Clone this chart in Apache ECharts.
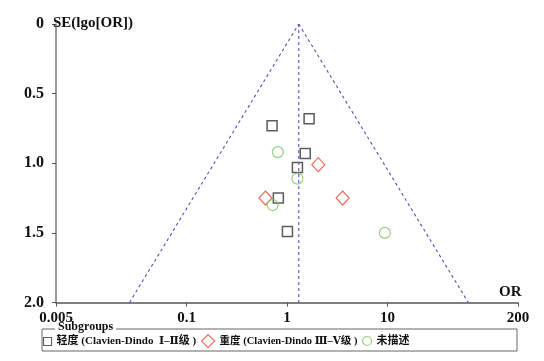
<!DOCTYPE html>
<html><head><meta charset="utf-8">
<script src="https://cdn.jsdelivr.net/npm/echarts@6/dist/echarts.min.js"></script>
<style>html,body{margin:0;padding:0;background:#fff}#c{width:544px;height:361px}</style>
</head><body><div id="c"></div>
<script>
const xTicks = [0.005, 0.1, 1, 10, 200];
const yTicks = [0, 0.5, 1.0, 1.5, 2.0];
const mildData = [[1.66,0.68],[0.71,0.73],[1.52,0.93],[1.27,1.03],[0.82,1.25],[1.01,1.49]];
const severeData = [[2.05,1.01],[0.61,1.25],[3.58,1.25]];
const unknownData = [[0.81,0.92],[1.27,1.11],[0.72,1.30],[9.44,1.50]];
const funnelLeft = [[0.027,2.0],[1.31,0]];
const funnelRight = [[1.31,0],[64,2.0]];
const centerLine = [[1.31,0],[1.31,2.0]];
const seriesNames = ['轻度 (Clavien-Dindo  Ⅰ–Ⅱ级 )','重度 (Clavien-Dindo Ⅲ–Ⅴ级 )','未描述'];

const serif = '"Liberation Serif","DejaVu Serif","Noto Sans CJK SC",serif';
const chart = echarts.init(document.getElementById('c'));
const dashStyle = {color:'#5050c4', width:1.1, type:[3,3]};
const legendText = {fontFamily:serif, fontWeight:'bold', fontSize:11, color:'#111'};
chart.setOption({
  animation:false,
  backgroundColor:'#fff',
  title:[
    {text:'SE(lgo[OR])', left:48, top:11, textStyle:{fontFamily:serif,fontWeight:'bold',fontSize:15,color:'#111'}},
    {text:'OR', left:494, top:280, textStyle:{fontFamily:serif,fontWeight:'bold',fontSize:15,color:'#111'}}
  ],
  grid:{left:56, top:24, right:26, bottom:58.5, containLabel:false},
  xAxis:{type:'log', logBase:10, min:0.005, max:200, position:'bottom',
    axisLine:{onZero:false, lineStyle:{color:'#555', width:1.5}},
    axisTick:{customValues:xTicks, length:4, lineStyle:{color:'#555'}},
    axisLabel:{customValues:xTicks, formatter:v=>String(v), fontFamily:serif, fontWeight:'bold', fontSize:15, color:'#111', margin:8},
    splitLine:{show:false}, minorTick:{show:false}},
  yAxis:{type:'value', inverse:true, min:0, max:2, interval:0.5,
    axisLine:{show:true, onZero:false, lineStyle:{color:'#777', width:1.5}},
    axisTick:{show:true, length:4, lineStyle:{color:'#555'}},
    axisLabel:{formatter:v=>v===0?'0':v.toFixed(1), fontFamily:serif, fontWeight:'bold', fontSize:16, color:'#111', margin:12},
    splitLine:{show:false}},
  graphic:[
    {type:'rect', shape:{x:42, y:329, width:475, height:22}, style:{fill:'none', stroke:'#666', lineWidth:1}, silent:true},
    {type:'text', left:55, top:321, style:{text:'Subgroups', fill:'#111', font:'bold 12px '+serif, backgroundColor:'#fff', padding:[0,3]}}
  ],
  legend:[
    {left:43, top:336, itemWidth:8, itemHeight:8, padding:0, textStyle:legendText,
      data:[{name:seriesNames[0], icon:'rect', itemStyle:{color:'#fff', borderColor:'#333', borderWidth:1.1}}]},
    {left:201, top:334, itemWidth:13, itemHeight:13, padding:0, textStyle:Object.assign({}, legendText, {fontSize:10.5}),
      data:[{name:seriesNames[1], icon:'diamond', itemStyle:{color:'#fff', borderColor:'#e04a2e', borderWidth:1.2}}]},
    {left:362, top:335.5, itemWidth:9, itemHeight:9, padding:0, textStyle:legendText,
      data:[{name:seriesNames[2], icon:'circle', itemStyle:{color:'#fff', borderColor:'#7cc464', borderWidth:1.2}}]}
  ],
  series:[
    {type:'line', data:funnelLeft, symbol:'none', lineStyle:dashStyle, silent:true},
    {type:'line', data:funnelRight, symbol:'none', lineStyle:dashStyle, silent:true},
    {type:'line', data:centerLine, symbol:'none', lineStyle:dashStyle, silent:true},
    {name:seriesNames[0], type:'scatter', data:mildData, symbol:'rect', symbolSize:10,
      itemStyle:{color:'rgba(0,0,0,0)', borderColor:'#333', borderWidth:1.5}},
    {name:seriesNames[1], type:'scatter', data:severeData, symbol:'diamond', symbolSize:[13,14],
      itemStyle:{color:'rgba(0,0,0,0)', borderColor:'#e04a2e', borderWidth:1.2}},
    {name:seriesNames[2], type:'scatter', data:unknownData, symbol:'circle', symbolSize:11,
      itemStyle:{color:'rgba(0,0,0,0)', borderColor:'#7cc464', borderWidth:1.2}}
  ]
});
</script></body></html>
